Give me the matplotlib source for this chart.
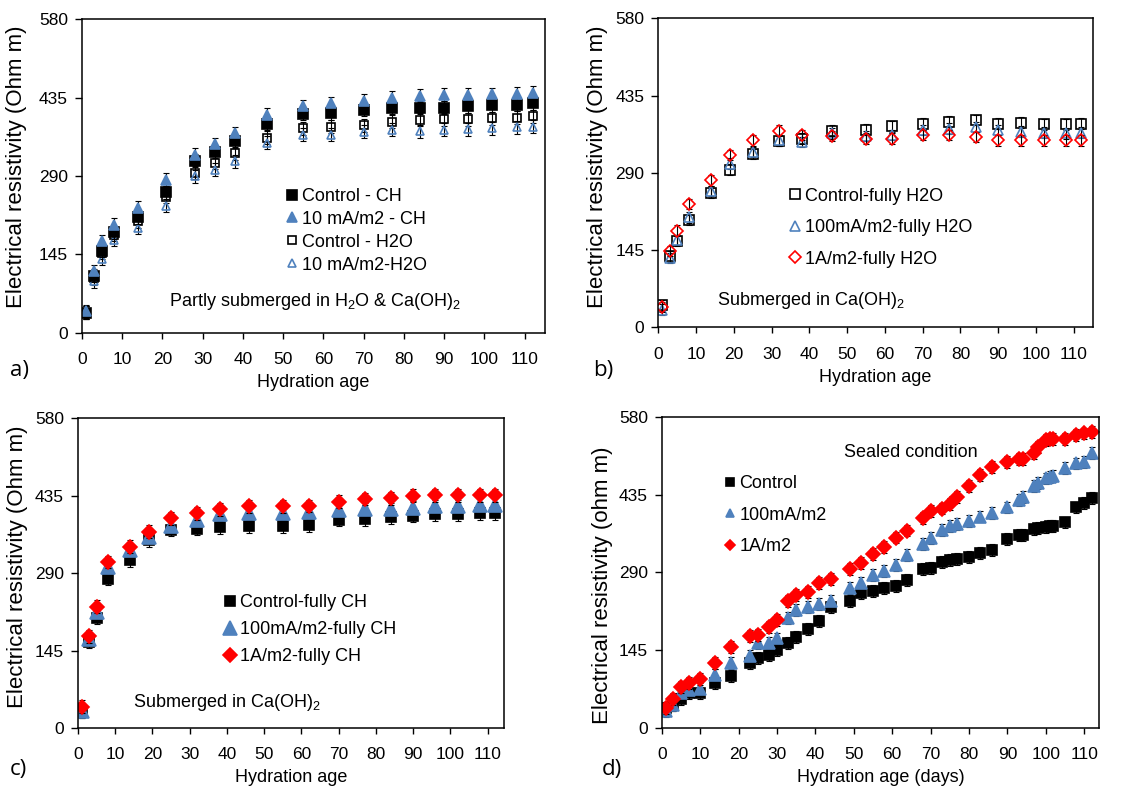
import matplotlib.pyplot as plt

plt.rcParams['font.family'] = ['Liberation Sans', 'DejaVu Sans']
plt.rcParams['mathtext.fontset'] = 'custom'
plt.rcParams['mathtext.rm'] = 'Liberation Sans'
plt.rcParams['mathtext.it'] = 'Liberation Sans:italic'

BLUE = '#4F81BD'
RED = '#FF0000'

# panel a - partly submerged
days_a = [1, 3, 5, 8, 14, 21, 28, 33, 38, 46, 55, 62, 70, 77, 84, 90, 96, 102, 108, 112]
a_ctrl_ch = [37, 105, 152, 186, 214, 260, 318, 335, 354, 386, 405, 406, 412, 416, 416, 416, 419, 421, 422, 424]
a_10ma_ch = [40, 114, 169, 200, 231, 283, 329, 349, 369, 403, 419, 424, 429, 435, 438, 440, 440, 441, 442, 444]
a_ctrl_h2o = [37, 101, 148, 181, 206, 251, 296, 314, 332, 361, 378, 381, 384, 390, 394, 395, 395, 397, 398, 400]
a_10ma_h2o = [37, 95, 137, 172, 194, 235, 289, 301, 317, 351, 366, 366, 372, 375, 373, 375, 376, 378, 380, 381]

# panel b - fully submerged in H2O
days_b = [1, 3, 5, 8, 14, 19, 25, 32, 38, 46, 55, 62, 70, 77, 84, 90, 96, 102, 108, 112]
b_ctrl = [41, 133, 162, 201, 252, 296, 325, 350, 354, 369, 371, 377, 382, 386, 389, 382, 384, 381, 381, 382]
b_100ma = [33, 130, 164, 206, 256, 307, 329, 351, 348, 364, 359, 361, 370, 373, 376, 370, 367, 365, 364, 365]
b_1a = [38, 143, 181, 231, 276, 323, 351, 369, 361, 359, 354, 354, 361, 361, 357, 351, 351, 351, 351, 351]

# panel c - fully submerged in CH
days_c = [1, 3, 5, 8, 14, 19, 25, 32, 38, 46, 55, 62, 70, 77, 84, 90, 96, 102, 108, 112]
c_ctrl = [31, 162, 207, 280, 314, 352, 371, 373, 376, 378, 378, 380, 390, 391, 395, 397, 400, 400, 402, 402]
c_100ma = [31, 166, 218, 301, 333, 357, 379, 390, 401, 402, 402, 404, 408, 410, 410, 413, 416, 416, 418, 418]
c_1a = [40, 172, 227, 311, 340, 368, 393, 402, 410, 415, 415, 416, 424, 429, 430, 435, 436, 436, 436, 436]

# panel d - sealed
days_d = [1, 3, 5, 7, 10, 14, 18, 23, 25, 28, 30, 33, 35, 38, 41, 44, 49, 52, 55, 58, 61, 64,
          68, 70, 73, 75, 77, 80, 83, 86, 90, 93, 94, 97, 98, 100, 101, 102, 105, 108, 110, 112]
d_ctrl = [37, 43, 54, 65, 65, 83, 97, 121, 130, 136, 146, 158, 169, 184, 200, 226, 236, 251, 256, 261, 265, 276,
          296, 298, 310, 313, 315, 318, 326, 331, 352, 360, 360, 370, 372, 375, 377, 377, 383, 411, 419, 429]
d_100ma = [31, 43, 65, 71, 73, 99, 121, 135, 158, 159, 167, 205, 220, 226, 231, 236, 261, 271, 285, 292, 304, 323,
           343, 354, 369, 376, 380, 386, 394, 400, 411, 425, 431, 451, 457, 465, 468, 470, 484, 493, 496, 513]
d_1a = [37, 54, 76, 84, 91, 121, 151, 171, 174, 188, 202, 236, 248, 253, 270, 277, 296, 307, 324, 338, 355, 368,
        391, 405, 409, 418, 430, 451, 471, 487, 496, 502, 502, 512, 523, 537, 538, 538, 538, 546, 549, 552]

yticks = [0, 145, 290, 435, 580]

fig = plt.figure(figsize=(11.37, 7.96), dpi=100)
ax_a = fig.add_axes([0.0721, 0.582, 0.407, 0.394])
ax_b = fig.add_axes([0.579, 0.589, 0.382, 0.388])
ax_c = fig.add_axes([0.0686, 0.0854, 0.375, 0.389])
ax_d = fig.add_axes([0.582, 0.0854, 0.385, 0.391])


def style(ax, xmax, xlabel, ylabel, ylab_x, ylab_y):
    ax.set_xlim(0, xmax)
    ax.set_ylim(0, 580)
    ax.set_yticks(yticks)
    ax.set_xticks(range(0, 111, 10))
    ax.tick_params(axis='x', direction='out', labelsize=12.5, length=4, width=1, pad=10)
    ax.tick_params(axis='y', direction='out', labelsize=12.5, length=5, width=1, pad=5)
    ax.set_xlabel(xlabel, fontsize=13, labelpad=5)
    ax.set_ylabel(ylabel, fontsize=16)
    ax.yaxis.set_label_coords(ylab_x, ylab_y)
    for s in ax.spines.values():
        s.set_linewidth(1.1)


def series(ax, x, y, err, marker, color, fill, ms, label):
    ax.errorbar(x, y, yerr=err, fmt='none', ecolor='black', elinewidth=0.8,
                capsize=2.5, capthick=0.8)
    ax.plot(x, y, marker, linestyle='none', ms=ms, mec=color, mfc=color if fill else 'none',
            mew=1.2, label=label)


def legend(ax, x, y, spacing):
    ax.legend(loc='upper left', bbox_to_anchor=(x, y), frameon=False, fontsize=13,
              handletextpad=0.1, handlelength=0.9, labelspacing=spacing, borderaxespad=0)


# a)
series(ax_a, days_a, a_ctrl_h2o, 12, 's', 'black', False, 6, 'Control - H2O')
series(ax_a, days_a, a_10ma_h2o, 12, '^', BLUE, False, 6, '10 mA/m2-H2O')
series(ax_a, days_a, a_ctrl_ch, 12, 's', 'black', True, 6.5, 'Control - CH')
series(ax_a, days_a, a_10ma_ch, 12, '^', BLUE, True, 7, '10 mA/m2 - CH')
style(ax_a, 115, 'Hydration age', 'Electrical resistivity (Ohm m)', -0.118, 0.53)
h, l = ax_a.get_legend_handles_labels()
order = [2, 3, 0, 1]
ax_a.legend([h[i] for i in order], [l[i] for i in order], loc='upper left',
            bbox_to_anchor=(0.42, 0.485), frameon=False, fontsize=13,
            handletextpad=0.1, handlelength=0.9, labelspacing=0.33, borderaxespad=0)
ax_a.text(0.505, 0.1, 'Partly submerged in H$_2$O & Ca(OH)$_2$', transform=ax_a.transAxes,
          ha='center', va='center', fontsize=13)

# b)
series(ax_b, days_b, b_ctrl, 10, 's', 'black', False, 7.5, 'Control-fully H2O')
series(ax_b, days_b, b_100ma, 10, '^', BLUE, False, 7.5, '100mA/m2-fully H2O')
series(ax_b, days_b, b_1a, 10, 'D', RED, False, 6, '1A/m2-fully H2O')
style(ax_b, 115, 'Hydration age', 'Electrical resistivity (Ohm m)', -0.115, 0.52)
legend(ax_b, 0.28, 0.475, 0.8)
ax_b.text(0.35, 0.087, 'Submerged in Ca(OH)$_2$', transform=ax_b.transAxes,
          ha='center', va='center', fontsize=13)

# c)
series(ax_c, days_c, c_ctrl, 12, 's', 'black', True, 7, 'Control-fully CH')
series(ax_c, days_c, c_100ma, 12, '^', BLUE, True, 9.5, '100mA/m2-fully CH')
series(ax_c, days_c, c_1a, 12, 'D', RED, True, 7, '1A/m2-fully CH')
style(ax_c, 114.5, 'Hydration age', 'Electrical resistivity (Ohm m)', -0.117, 0.52)
legend(ax_c, 0.32, 0.455, 0.55)
ax_c.text(0.35, 0.084, 'Submerged in Ca(OH)$_2$', transform=ax_c.transAxes,
          ha='center', va='center', fontsize=13)

# d)
series(ax_d, days_d, d_ctrl, 11, 's', 'black', True, 7.5, 'Control')
series(ax_d, days_d, d_100ma, 11, '^', BLUE, True, 8.5, '100mA/m2')
series(ax_d, days_d, d_1a, 11, 'D', RED, True, 7, '1A/m2')
style(ax_d, 114, 'Hydration age (days)', 'Electrical resistivity (ohm m)', -0.112, 0.46)
ax_d.legend(loc='upper left', bbox_to_anchor=(0.12, 0.835), frameon=False, fontsize=13,
            handletextpad=0.1, handlelength=0.9, labelspacing=0.8, borderaxespad=0,
            markerscale=0.75)
ax_d.text(0.568, 0.884, 'Sealed condition', transform=ax_d.transAxes,
          ha='center', va='center', fontsize=13)

# panel letters
for lbl, x, y in [('a)', 0.009, 0.535), ('b)', 0.522, 0.535), ('c)', 0.009, 0.033), ('d)', 0.529, 0.033)]:
    fig.text(x, y, lbl, fontsize=16, va='center', family=['Open Sans', 'DejaVu Sans'])

fig.savefig('out.png', dpi=100)
